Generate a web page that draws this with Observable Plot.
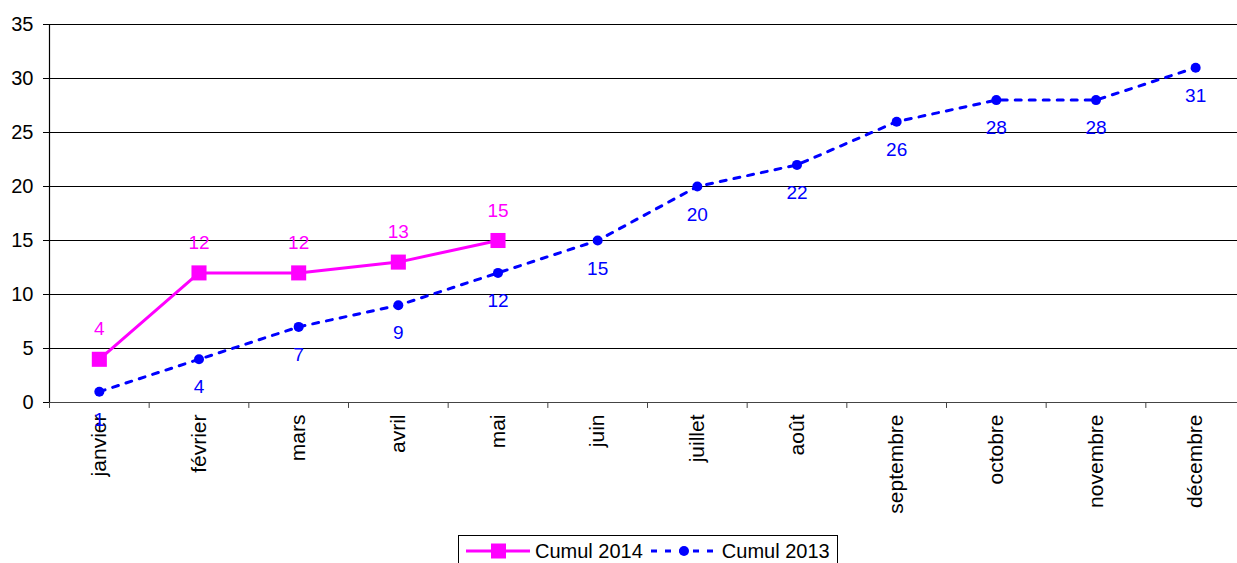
<!DOCTYPE html>
<html>
<head>
<meta charset="utf-8">
<script src="https://cdn.jsdelivr.net/npm/d3@7"></script>
<script src="https://cdn.jsdelivr.net/npm/@observablehq/plot@0.6"></script>
<style>
  html, body { margin: 0; padding: 0; background: #fff; overflow: hidden; }
  #wrap { position: relative; width: 1237px; height: 563px; overflow: hidden; font-family: "Liberation Sans", Arial, sans-serif; }
  #chart svg { max-width: none !important; display: block; }
  #legend { position: absolute; left: 458px; top: 535px; width: 380px; height: 32px; border: 1px solid #000; background: #fff; display: flex; align-items: center; font-size: 20px; color: #000; box-sizing: border-box; white-space: nowrap; }
  #legend svg { display: block; }
</style>
</head>
<body>
<div id="wrap"><div id="chart"></div><div id="legend"></div></div>
<script>
const months = ["janvier","février","mars","avril","mai","juin","juillet","août","septembre","octobre","novembre","décembre"];
const cumul2014 = [4, 12, 12, 13, 15];
const cumul2013 = [1, 4, 7, 9, 12, 15, 20, 22, 26, 28, 28, 31];
const yTicks = [0, 5, 10, 15, 20, 25, 30, 35];
const series = [
  {name: "Cumul 2014", color: "#ff00ff"},
  {name: "Cumul 2013", color: "#0000ff"}
];

const d2014 = cumul2014.map((v, i) => ({month: months[i], v}));
const d2013 = cumul2013.map((v, i) => ({month: months[i], v}));

const W = 1246, mL = 49, mR = 1;
const bw = (W - mL - mR) / months.length;
const magenta = series[0].color, blue = series[1].color;

const chart = Plot.plot({
  width: W,
  height: 534,
  marginLeft: mL,
  marginRight: mR,
  marginTop: 24,
  marginBottom: 132,
  style: {fontFamily: "'Liberation Sans', Arial, sans-serif", fontSize: "20px", color: "#000", background: "#fff", maxWidth: "none"},
  x: {type: "band", domain: months, padding: 0, round: false, label: null},
  y: {domain: [0, 35], label: null},
  marks: [
    Plot.gridY(yTicks.slice(1), {stroke: "#000", strokeOpacity: 1, strokeWidth: 1}),
    Plot.ruleY([0], {stroke: "#444", strokeWidth: 1.2}),
    Plot.ruleX([months[0]], {dx: -bw / 2, stroke: "#000", strokeWidth: 1.2}),
    Plot.ruleX(months, {x: d => d, y1: 0, y2: -0.55, dx: -bw / 2, stroke: "#444", strokeWidth: 1}),
    Plot.axisY({ticks: yTicks, tickSize: 6, tickPadding: 10, fontSize: 20, stroke: "#000", fill: "#000", label: null}),
    Plot.axisX({tickSize: 0, tickRotate: -90, tickPadding: 12, fontSize: 21, fill: "#000", label: null}),
    Plot.line(d2013, {x: "month", y: "v", stroke: blue, strokeWidth: 3, strokeDasharray: "6,8"}),
    Plot.dot(d2013, {x: "month", y: "v", r: 5, fill: blue, stroke: null}),
    Plot.text(d2013, {x: "month", y: "v", text: d => String(d.v), dy: 28, fill: blue, fontSize: 19}),
    Plot.line(d2014, {x: "month", y: "v", stroke: magenta, strokeWidth: 3}),
    Plot.dot(d2014, {x: "month", y: "v", symbol: "square", r: 8.5, fill: magenta, stroke: null}),
    Plot.text(d2014, {x: "month", y: "v", text: d => String(d.v), dy: -30, fill: magenta, fontSize: 19})
  ]
});
document.getElementById("chart").appendChild(chart);

// Legend
const legend = d3.select("#legend");
function swatch(color, dashed, ml, mr) {
  const s = legend.append("svg").attr("width", 64).attr("height", 20).style("margin-left", ml + "px").style("margin-right", mr + "px");
  s.append("line").attr("x1", 0).attr("x2", 64).attr("y1", 10).attr("y2", 10)
    .attr("stroke", color).attr("stroke-width", 3).attr("stroke-dasharray", dashed ? "6,8" : null);
  if (dashed) s.append("circle").attr("cx", 33).attr("cy", 10).attr("r", 5).attr("fill", color);
  else s.append("rect").attr("x", 25).attr("y", 2.5).attr("width", 15).attr("height", 15).attr("fill", color);
}
swatch(magenta, false, 7, 5);
legend.append("span").text(series[0].name);
swatch(blue, true, 8, 7);
legend.append("span").text(series[1].name);
</script>
</body>
</html>
